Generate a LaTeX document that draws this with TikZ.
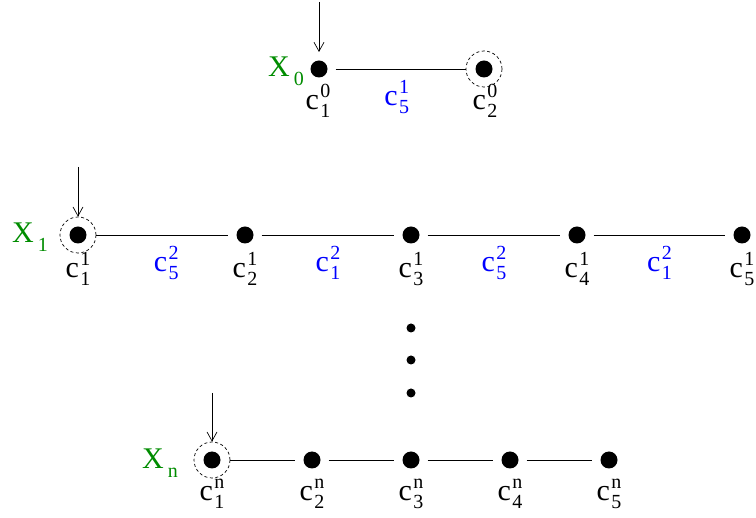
\documentclass[tikz,border=0pt]{standalone}
\usepackage{fontspec}
\setmainfont{Liberation Serif}
\usetikzlibrary{arrows.meta}
\definecolor{xgreen}{RGB}{0,140,0}
\definecolor{lblue}{RGB}{0,0,255}
\newcommand\scrf{\fontsize{20}{20}\selectfont}
\newcommand\clab[2]{c\kern1.5pt\makebox[0pt][l]{\raisebox{12pt}{\scrf #1}}\raisebox{-8pt}{\scrf #2}}
\newcommand\xlab[1]{X\kern4pt\raisebox{-9pt}{\scrf #1}}
\tikzset{
  dot/.style={circle,fill=black,inner sep=0pt,minimum size=17pt},
  sdot/.style={circle,fill=black,inner sep=0pt,minimum size=9pt},
  ring/.style={circle,draw,dashed,dash pattern=on 3pt off 2.5pt,inner sep=0pt,minimum size=36pt,line width=0.7pt},
  lab/.style={font=\fontsize{30}{30}\selectfont,inner sep=0pt},
  elab/.style={font=\fontsize{30}{30}\selectfont,text=lblue,inner sep=0pt},
  xl/.style={font=\fontsize{30}{30}\selectfont,text=xgreen,inner sep=0pt},
  conn/.style={line width=0.7pt},
  dd/.style={conn,shorten >=8pt,shorten <=8pt},
  inarrow/.style={line width=0.7pt,-{Straight Barb[length=9pt,width=10pt,line width=0.7pt]}}
}
\begin{document}
\begin{tikzpicture}[x=1pt,y=-1pt]
\useasboundingbox (0,0) rectangle (756,518);
% row 0
\node[dot] (a1) at (319,69) {};
\node[dot] (a2) at (484,69) {};
\node[ring] (ra2) at (484,69) {};
\coordinate (ta) at (319,2);
\draw[inarrow] (ta) -- (319,52) coordinate (ea);
\node[xl] (x0) at (286,71) {\xlab{0}};
\node[lab] (la1) at (318,101) {\clab{0}{1}};
\node[lab] (la2) at (485,101) {\clab{0}{2}};
\draw[conn,shorten <=8pt] (a1) -- (ra2) node[elab,midway,yshift=-28pt] (ea12) {\clab{1}{5}};
% row 1
\foreach \i/\x in {1/78,2/245,3/411,4/577,5/742}{
  \node[dot] (b\i) at (\x,235) {};
  \node[lab] (lb\i) at (\x,269) {\clab{1}{\i}};
}
\node[ring] (rb1) at (78,235) {};
\coordinate (tb) at (78,167);
\draw[inarrow] (tb) -- (rb1);
\node[xl] (x1) at (30,237) {\xlab{1}};
\draw[conn,shorten >=8pt] (rb1) -- (b2) node[elab,midway,yshift=-28pt] (eb12) {\clab{2}{5}};
\draw[dd] (b2) -- (b3) node[elab,midway,yshift=-28pt] (eb23) {\clab{2}{1}};
\draw[dd] (b3) -- (b4) node[elab,midway,yshift=-28pt] (eb34) {\clab{2}{5}};
\draw[dd] (b4) -- (b5) node[elab,midway,yshift=-28pt] (eb45) {\clab{2}{1}};
% dots
\node[sdot] (v1) at (411,328) {};
\node[sdot] (v2) at (411,360) {};
\node[sdot] (v3) at (411,393) {};
% row n
\foreach \i/\x in {1/212,2/312,3/411,4/510,5/609}{
  \node[dot] (n\i) at (\x,460) {};
  \node[lab] (ln\i) at (\x,494) {\clab{n}{\i}};
}
\node[ring] (rn1) at (212,460) {};
\coordinate (tn) at (212,393);
\draw[inarrow] (tn) -- (rn1);
\node[xl] (xn) at (160,463) {\xlab{n}};
\draw[conn,shorten >=8pt] (rn1) -- (n2);
\draw[dd] (n2) -- (n3);
\draw[dd] (n3) -- (n4);
\draw[dd] (n4) -- (n5);
\end{tikzpicture}
\end{document}
